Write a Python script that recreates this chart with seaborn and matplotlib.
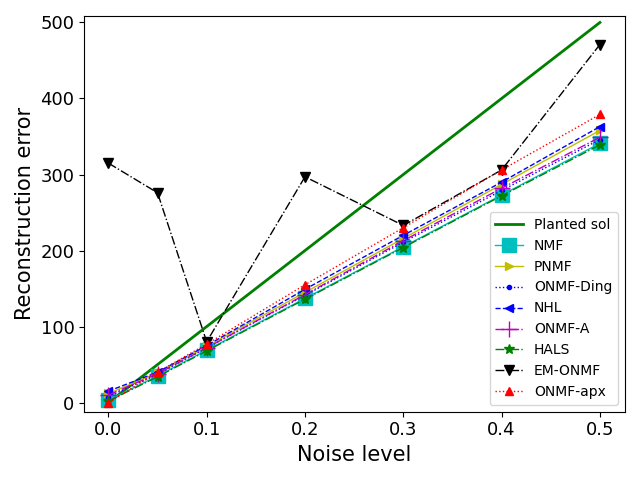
import matplotlib
matplotlib.use("Agg")
import matplotlib.pyplot as plt
import seaborn as sns
import numpy as np

noise = [0.0, 0.05, 0.1, 0.2, 0.3, 0.4, 0.5]
planted = [0, 50, 100, 200, 300, 400, 500]
nmf = [3, 35, 69, 137, 205, 273, 341]
pnmf = [12, 39, 74, 145, 216, 287, 358]
onmf_ding = [8, 37, 72, 141, 211, 279, 346]
nhl = [15, 40, 75, 149, 220, 290, 363]
onmf_a = [10, 38, 72, 142, 213, 282, 349]
hals = [2, 34, 68, 136, 204, 272, 339]
em_onmf = [315, 276, 80, 297, 233, 306, 471]
onmf_apx = [0, 40, 77, 155, 230, 306, 379]

series = [
    ("Planted sol", planted, dict(color="green", linestyle="-", linewidth=2)),
    ("NMF", nmf, dict(color="c", linestyle="-", linewidth=1, marker="s", markersize=10)),
    ("PNMF", pnmf, dict(color="y", linestyle="-", linewidth=1, marker=">", markersize=6)),
    ("ONMF-Ding", onmf_ding, dict(color="b", linestyle=":", linewidth=1, marker=".", markersize=6)),
    ("NHL", nhl, dict(color="b", linestyle="--", linewidth=1, marker="<", markersize=6)),
    ("ONMF-A", onmf_a, dict(color="m", linestyle="-.", linewidth=1, marker="+", markersize=12)),
    ("HALS", hals, dict(color="green", linestyle="-.", linewidth=1, marker="*", markersize=7)),
    ("EM-ONMF", em_onmf, dict(color="k", linestyle="-.", linewidth=1, marker="v", markersize=7)),
    ("ONMF-apx", onmf_apx, dict(color="r", linestyle=":", linewidth=1, marker="^", markersize=6)),
]

fig, ax = plt.subplots(figsize=(6.4, 4.8), dpi=100)
for name, vals, style in series:
    extra = {}
    if "marker" in style:
        extra = dict(markeredgecolor=style["color"], markerfacecolor=style["color"], markeredgewidth=1)
    sns.lineplot(x=noise, y=vals, ax=ax, label=name, **style, **extra)

ax.set_xlim(-0.0245, 0.5255)
ax.set_ylim(-12, 509)
ax.set_xticks([0.0, 0.1, 0.2, 0.3, 0.4, 0.5])
ax.set_yticks([0, 100, 200, 300, 400, 500])
ax.tick_params(labelsize=13)
ax.set_xlabel("Noise level", fontsize=15)
ax.set_ylabel("Reconstruction error", fontsize=15)
ax.legend(loc="lower right", fontsize=10)
fig.tight_layout()
fig.savefig("out.png", dpi=100)
